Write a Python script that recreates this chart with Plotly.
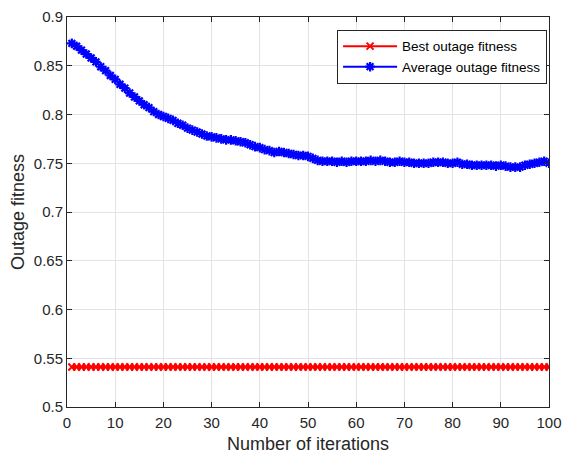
import plotly.graph_objects as go

iterations = list(range(1, 101))

best_fitness = [
    0.541, 0.541, 0.541, 0.541, 0.541, 0.541, 0.541, 0.541, 0.541, 0.541,
    0.541, 0.541, 0.541, 0.541, 0.541, 0.541, 0.541, 0.541, 0.541, 0.541,
    0.541, 0.541, 0.541, 0.541, 0.541, 0.541, 0.541, 0.541, 0.541, 0.541,
    0.541, 0.541, 0.541, 0.541, 0.541, 0.541, 0.541, 0.541, 0.541, 0.541,
    0.541, 0.541, 0.541, 0.541, 0.541, 0.541, 0.541, 0.541, 0.541, 0.541,
    0.541, 0.541, 0.541, 0.541, 0.541, 0.541, 0.541, 0.541, 0.541, 0.541,
    0.541, 0.541, 0.541, 0.541, 0.541, 0.541, 0.541, 0.541, 0.541, 0.541,
    0.541, 0.541, 0.541, 0.541, 0.541, 0.541, 0.541, 0.541, 0.541, 0.541,
    0.541, 0.541, 0.541, 0.541, 0.541, 0.541, 0.541, 0.541, 0.541, 0.541,
    0.541, 0.541, 0.541, 0.541, 0.541, 0.541, 0.541, 0.541, 0.541, 0.541,
]

average_fitness = [
    0.873, 0.870, 0.866, 0.862, 0.858, 0.854, 0.849, 0.845, 0.840, 0.836,
    0.831, 0.827, 0.822, 0.818, 0.814, 0.810, 0.807, 0.803, 0.800, 0.798,
    0.796, 0.794, 0.791, 0.789, 0.786, 0.784, 0.782, 0.780, 0.778, 0.777,
    0.776, 0.775, 0.774, 0.774, 0.773, 0.772, 0.771, 0.769, 0.767, 0.766,
    0.764, 0.763, 0.761, 0.762, 0.761, 0.760, 0.759, 0.758, 0.758, 0.757,
    0.755, 0.753, 0.752, 0.752, 0.752, 0.751, 0.752, 0.751, 0.752, 0.752,
    0.752, 0.752, 0.753, 0.752, 0.753, 0.752, 0.751, 0.751, 0.752, 0.751,
    0.751, 0.750, 0.750, 0.750, 0.750, 0.751, 0.751, 0.751, 0.750, 0.750,
    0.751, 0.749, 0.749, 0.748, 0.748, 0.748, 0.748, 0.748, 0.747, 0.748,
    0.747, 0.746, 0.746, 0.746, 0.748, 0.749, 0.750, 0.751, 0.752, 0.750,
]

x_ticks = [0, 10, 20, 30, 40, 50, 60, 70, 80, 90, 100]
y_ticks = [0.5, 0.55, 0.6, 0.65, 0.7, 0.75, 0.8, 0.85, 0.9]
y_tick_labels = ["0.5", "0.55", "0.6", "0.65", "0.7", "0.75", "0.8", "0.85", "0.9"]

FONT = "Arial, Liberation Sans, sans-serif"
AX = "#262626"

fig = go.Figure()
fig.add_trace(go.Scatter(
    x=iterations, y=best_fitness, mode="lines+markers",
    name="Best outage fitness",
    line=dict(color="#ff0000", width=2),
    marker=dict(symbol="x-thin-open", size=7, color="#ff0000",
                line=dict(color="#ff0000", width=2)),
))
fig.add_trace(go.Scatter(
    x=iterations, y=average_fitness, mode="lines+markers",
    name="Average outage fitness",
    line=dict(color="#0000ff", width=2),
    marker=dict(symbol="asterisk-open", size=8, color="#0000ff",
                line=dict(color="#0000ff", width=2.2)),
))

axis_common = dict(
    showline=True, linecolor=AX, linewidth=1, mirror="ticks",
    ticks="inside", ticklen=5, tickcolor=AX, tickwidth=1,
    showgrid=True, gridcolor="#e3e3e3", gridwidth=1,
    zeroline=False, automargin=False,
    tickfont=dict(family=FONT, size=15, color=AX),
)

# The page body adds an 8px offset, so the figure is 8px smaller and
# its margins are reduced to place the plot area like the reference.
fig.update_layout(
    width=565, height=446,
    paper_bgcolor="white", plot_bgcolor="white",
    margin=dict(l=59, r=24, t=9, b=47),
    font=dict(family=FONT, color=AX),
    xaxis=dict(
        range=[0, 100], tickvals=x_ticks, ticklabelstandoff=2,
        title=dict(text="Number of iterations", font=dict(family=FONT, size=18, color=AX), standoff=7),
        **axis_common,
    ),
    yaxis=dict(
        range=[0.5, 0.9], tickvals=y_ticks, ticktext=y_tick_labels,
        title=dict(text="Outage fitness", font=dict(family=FONT, size=18, color=AX), standoff=6),
        **axis_common,
    ),
    legend=dict(
        x=0.996, y=0.967, xanchor="right", yanchor="top",
        bgcolor="white", bordercolor=AX, borderwidth=1,
        font=dict(family=FONT, size=13.5, color="black"),
        tracegroupgap=0, itemwidth=54,
    ),
    showlegend=True,
)

fig.write_html("out.html")
